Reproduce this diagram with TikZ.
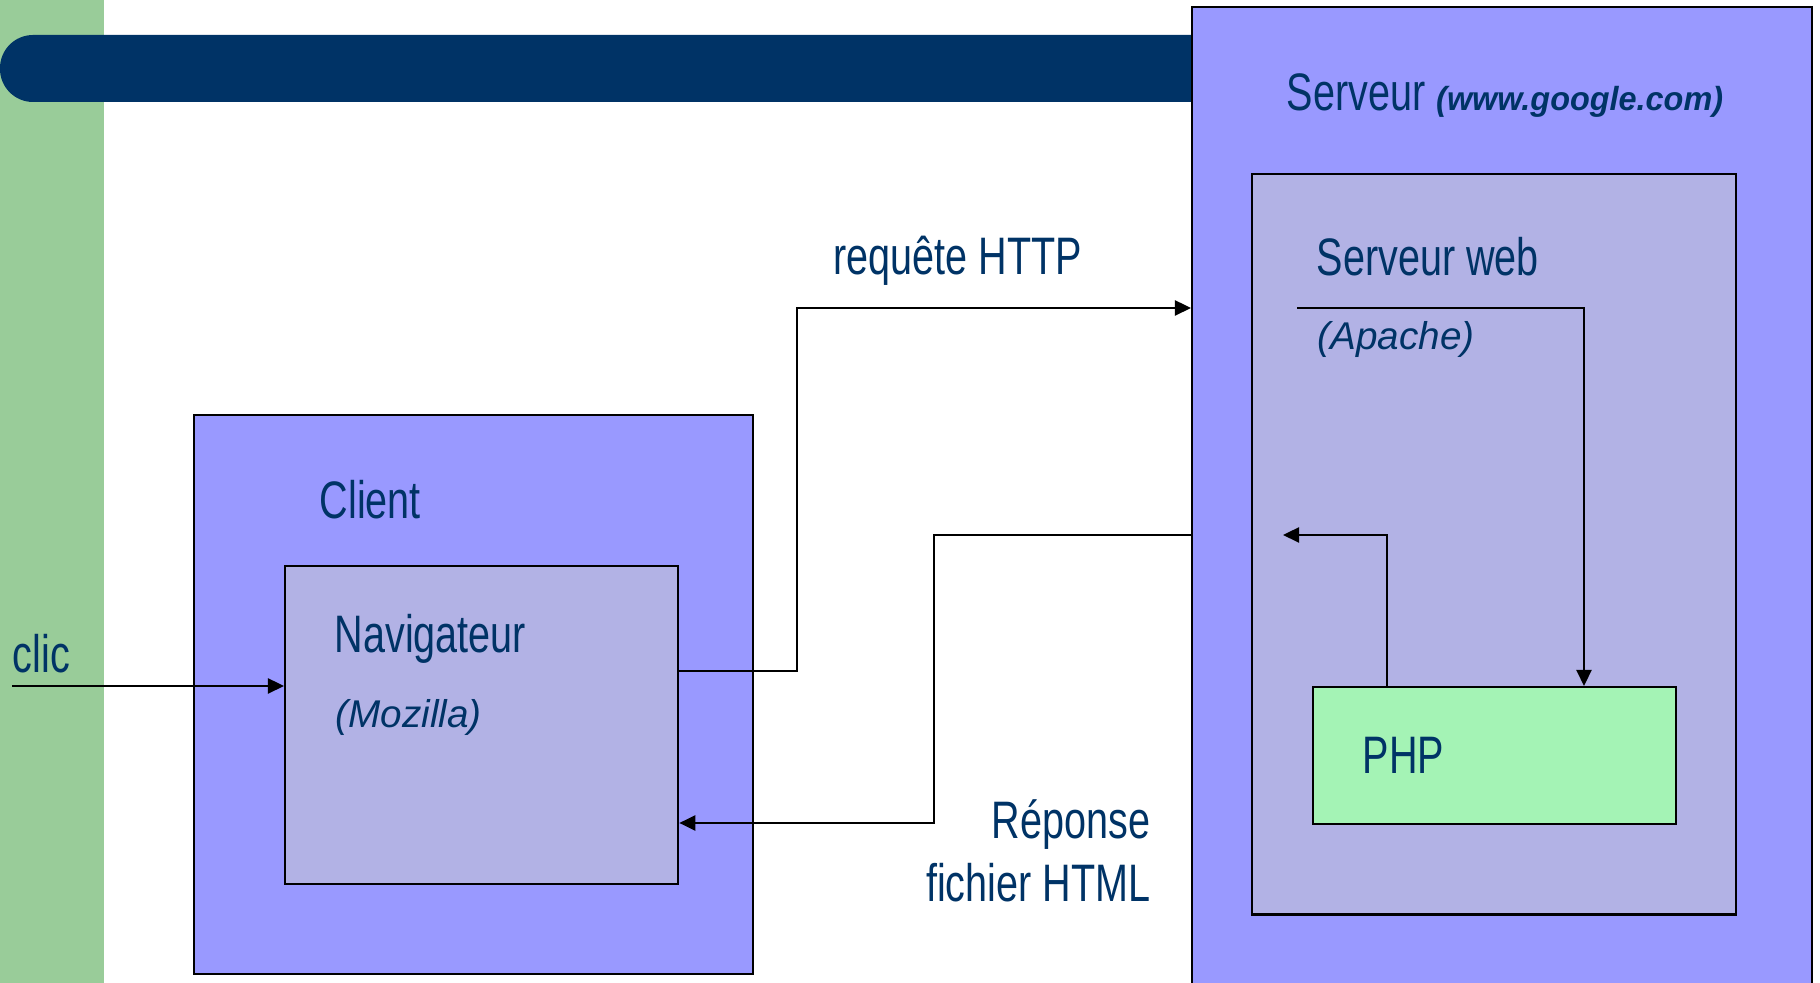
\documentclass[tikz,border=0pt]{standalone}
\usepackage{fontspec}
\setmainfont{Liberation Sans}
\newfontfamily\narrowfont{Liberation Sans}[FakeStretch=0.75]
\newfontfamily\urlfont{Liberation Sans}[FakeStretch=0.97]
\usepackage{tikz}
\usetikzlibrary{arrows.meta,positioning}
\definecolor{barblue}{RGB}{0,51,102}
\definecolor{txtblue}{RGB}{0,51,102}
\definecolor{leftgreen}{RGB}{153,204,153}
\definecolor{outerbox}{RGB}{153,153,255}
\definecolor{innerbox}{RGB}{178,178,229}
\definecolor{phpgreen}{RGB}{164,243,181}

\begin{document}
\begin{tikzpicture}[x=0.01cm, y=-0.01cm,
  box/.style={draw, line width=0.6pt, anchor=north west, inner sep=0pt},
  lbl/.style={anchor=base west, inner sep=0pt, text=txtblue, font=\narrowfont\fontsize{15}{18}\selectfont},
  sub/.style={anchor=base west, inner sep=0pt, text=txtblue, font=\fontsize{11}{13}\selectfont\itshape},
  arr/.style={line width=0.65pt, -{Triangle[length=0.16cm,width=0.15cm]}}]
  \useasboundingbox (0,0) rectangle (1820,983);
  \clip (0,0) rectangle (1820,983);
  \fill[leftgreen] (0,0) rectangle (104,983);
  \fill[barblue, rounded corners=0.33cm] (0,35) rectangle (1260,102);

  \node[box, fill=outerbox, minimum width=6.2cm, minimum height=10cm] (server) at (1191,6) {};
  \node[box, fill=innerbox, minimum width=4.84cm, minimum height=7.4cm] (web) at (1251,173) {};
  \node[box, fill=phpgreen, minimum width=3.63cm, minimum height=1.37cm] (php) at (1312,686) {};
  \node[box, fill=outerbox, minimum width=5.59cm, minimum height=5.59cm] (client) at (193,414) {};
  \node[box, fill=innerbox, minimum width=3.93cm, minimum height=3.18cm] (nav) at (284,565) {};

  \coordinate (clic) at (12,686);
  \coordinate (apache) at (1297,308);
  \coordinate (back) at (1283,535);
  \draw[arr] (clic) -- (nav.west |- clic);
  \draw[arr] (nav.east |- 0,671) -- (797,671) |- (server.west |- 0,308);
  \draw[arr] (server.west |- 0,535) -| (934,823) -- (nav.east |- 0,823);
  \draw[arr] (apache) -| (php.north -| 1584,0);
  \draw[arr] (php.north -| 1387,0) |- (back);

  \node[lbl] (srvlabel) at (1286,111) {Serveur {\urlfont\fontsize{9.5}{11}\selectfont\bfseries\itshape (www.google.com)}};
  \node[lbl] (weblabel) at (1316,276) {Serveur web};
  \node[sub] (apachelabel) at (1317,350) {(Apache)};
  \node[lbl] (phplabel) at (1362,774) {PHP};
  \node[lbl] (clientlabel) at (319,519) {Client};
  \node[lbl] (navlabel) at (334,653) {Navigateur};
  \node[sub] (mozlabel) at (335,728) {(Mozilla)};
  \node[lbl] (cliclabel) at (12,673) {clic};
  \node[lbl] (reqlabel) at (833,275) {requête HTTP};
  \node[lbl, anchor=base east] (replabel) at (1151,839) {Réponse};
  \node[lbl, anchor=base east] (filelabel) at (1151,902) {fichier HTML};
\end{tikzpicture}
\end{document}
